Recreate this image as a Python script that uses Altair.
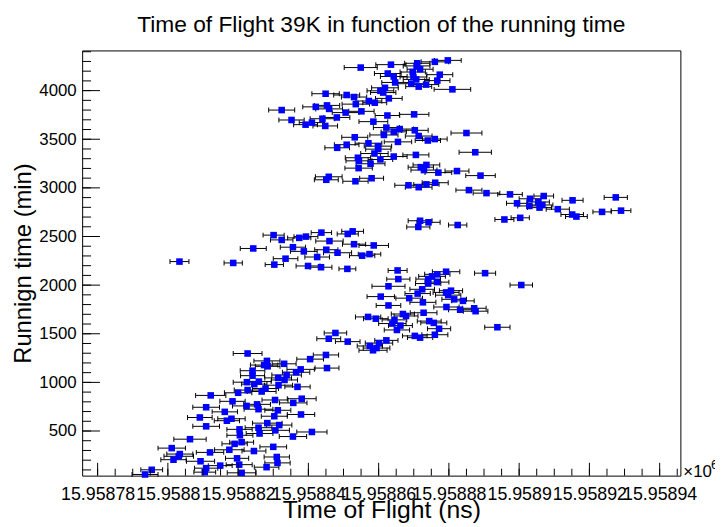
import altair as alt
import pandas as pd

# ---------------- data ----------------
# Time of flight is stored as an offset (ns) from TOF_REF_NS; running time in minutes;
# tof_err is the half-width of the horizontal error bar (ns).
TOF_REF_NS = 15958780.0

# lower diagonal cluster (0 - 1300 min)
bottom_tof = [42.7, 65.0, 60.5, 48.2, 53.1, 47.4, 48.4, 65.3, 57.8, 44.1,
              56.5, 44.1, 53.8, 51.4, 53.2, 42.5, 45.9, 44.6, 51.5, 56.9,
              47.8, 42.7, 46.7, 40.0, 32.2, 58.1, 50.5, 38.4, 55.7, 42.4,
              45.4, 30.9, 45.8, 51.3, 36.2, 57.9, 50.3, 29.1, 38.1, 36.8,
              48.3, 51.7, 30.9, 40.4, 45.8, 50.6, 61.0, 46.1, 40.5, 55.6,
              26.3, 41.0, 39.0, 50.0, 21.1, 37.5, 44.5, 32.0, 23.4, 23.1,
              51.0, 21.6, 39.7, 29.3, 51.2, 40.3, 34.9, 48.1, 30.9, 15.4,
              30.5, 41.0, 13.5]
bottom_min = [1297, 1282, 1239, 1221, 1191, 1178, 1165, 1147, 1134, 1120,
              1104, 1069, 1076, 1046, 1025, 1002, 1008, 982, 971, 954,
              937, 921, 906, 893, 866, 832, 819, 805, 789, 758,
              774, 744, 724, 713, 697, 670, 652, 639, 626, 606,
              581, 561, 548, 517, 534, 507, 490, 474, 456, 443,
              416, 385, 368, 337, 324, 307, 294, 280, 263, 240,
              233, 205, 219, 189, 172, 154, 144, 128, 118, 101,
              77, 70, 53]
bottom_err = [4.1, 3.6, 3.8, 3.7, 3.4, 3.9, 3.5, 3.4, 3.9, 3.5,
              3.9, 3.4, 4.2, 3.8, 3.7, 3.9, 3.5, 3.6, 4.0, 3.6,
              3.7, 3.8, 4.1, 3.9, 4.3, 4.1, 3.7, 3.6, 3.9, 4.0,
              3.8, 3.8, 4.1, 3.7, 3.6, 3.9, 3.7, 3.5, 3.9, 3.6,
              4.2, 3.6, 3.8, 3.6, 3.8, 4.0, 4.3, 3.8, 3.7, 3.9,
              4.6, 3.4, 3.6, 3.8, 3.9, 4.2, 3.4, 3.9, 3.7, 4.2,
              3.6, 3.6, 3.3, 4.0, 3.6, 3.7, 3.4, 3.5, 3.3, 3.1,
              3.1, 4.1, 3.7]

# middle cluster (1300 - 2200 min)
middle_tof = [65.8, 67.7, 71.2, 82.2, 80.1, 77.5, 79.4, 78.4, 90.3, 91.8,
              96.0, 97.2, 86.2, 85.2, 83.9, 84.5, 94.4, 95.7, 77.0, 79.2,
              86.9, 87.8, 92.8, 99.3, 103.2, 107.2, 107.6, 82.8, 80.6, 88.7,
              92.6, 101.5, 104.0, 82.8, 92.4, 91.1, 100.6, 99.2, 99.8, 85.4,
              85.6, 99.2, 96.7, 95.2, 94.1, 96.6, 94.1, 110.3, 120.6, 113.8]
middle_min = [1449, 1508, 1419, 1432, 1404, 1374, 1353, 1330, 1478, 1460,
              1490, 1552, 1584, 1539, 1605, 1643, 1630, 1612, 1673, 1655,
              1703, 1683, 1716, 1775, 1747, 1762, 1732, 1791, 1882, 1866,
              1823, 1854, 1838, 1988, 1957, 1913, 1943, 1925, 1897, 2151,
              2062, 2138, 2111, 2090, 2062, 2031, 2016, 2123, 2001, 1567]
middle_err = [3.4, 3.2, 3.5, 3.3, 3.9, 3.6, 3.8, 4.0, 3.5, 3.6,
              3.7, 3.3, 3.4, 3.6, 3.9, 3.5, 3.4, 3.7, 3.6, 3.5,
              3.3, 3.4, 3.8, 3.6, 3.3, 3.4, 3.5, 3.5, 3.9, 3.8,
              3.7, 3.5, 3.2, 4.7, 3.5, 3.6, 3.3, 3.7, 3.6, 2.7,
              3.3, 3.9, 3.6, 3.8, 3.5, 3.4, 3.6, 3.0, 3.2, 3.6]

# band around 2200 - 2700 min
band_tof = [23.3, 38.6, 50.3, 59.9, 63.6, 71.1, 44.3, 55.6, 58.7, 65.1,
            68.3, 62.5, 53.5, 75.3, 77.4, 78.6, 73.0, 66.0, 50.1, 52.4,
            57.4, 59.3, 63.7, 71.2, 72.6, 91.8, 94.2, 91.3, 102.5]
band_min = [2242, 2228, 2211, 2197, 2184, 2167, 2377, 2390, 2347, 2364,
            2333, 2289, 2272, 2303, 2319, 2408, 2421, 2453, 2514, 2465,
            2486, 2499, 2540, 2526, 2553, 2662, 2646, 2598, 2618]
band_err = [2.7, 2.6, 2.6, 3.4, 3.1, 2.4, 3.7, 3.6, 3.8, 3.3,
            4.0, 3.5, 3.5, 3.6, 3.2, 4.2, 3.3, 3.9, 3.0, 3.2,
            3.3, 3.4, 2.9, 3.0, 3.1, 3.4, 3.3, 3.3, 2.6]

# right-hand tail (2650 - 3000 min)
tail_tof = [105.7, 110.7, 117.4, 127.0, 123.1, 135.2, 147.5, 119.4, 125.4, 126.6,
            122.9, 125.8, 131.0, 135.1, 136.3, 143.6, 149.0, 115.8, 120.3]
tail_min = [2977, 2946, 2933, 2916, 2888, 2872, 2902, 2841, 2855, 2824,
            2814, 2797, 2781, 2726, 2705, 2753, 2766, 2675, 2692]
tail_err = [3.7, 3.8, 3.5, 2.8, 3.1, 3.0, 3.3, 3.0, 3.2, 3.0,
            3.3, 3.4, 3.3, 3.2, 3.1, 2.6, 2.8, 2.7, 2.6]

# upper cluster (3000 - 4320 min)
upper_tof = [88.5, 91.4, 96.1, 93.6, 65.8, 65.1, 73.4, 78.0, 109.0, 97.0,
             102.3, 92.9, 92.0, 93.6, 74.3, 77.7, 74.4, 80.5, 74.1, 84.3,
             90.6, 107.5, 78.8, 79.9, 79.8, 68.2, 70.9, 77.1, 85.5, 94.0,
             96.0, 73.2, 81.5, 91.4, 105.0, 84.3, 90.3, 86.0, 82.2, 64.8,
             59.2, 61.0, 78.5, 55.2, 64.0, 68.1, 82.5, 90.1, 70.6, 75.1,
             52.4, 65.9, 62.1, 65.3, 73.5, 78.9, 77.2, 82.9, 73.0, 70.9,
             64.9, 81.3, 80.5, 81.8, 101.0, 91.4, 93.5, 89.3, 84.7, 96.7,
             90.7, 89.9, 84.3, 97.4, 82.6, 89.7, 91.8, 74.9, 83.5, 90.8,
             91.0, 96.0, 99.7]
upper_min = [3027, 3007, 3053, 3036, 3114, 3083, 3068, 3099, 3126, 3157,
             3173, 3183, 3213, 3236, 3203, 3248, 3278, 3292, 3310, 3322,
             3339, 3366, 3353, 3398, 3429, 3412, 3444, 3459, 3473, 3487,
             3502, 3520, 3544, 3533, 3564, 3576, 3592, 3605, 3620, 3637,
             3650, 3671, 3681, 3698, 3711, 3724, 3744, 3756, 3774, 3787,
             3800, 3812, 3833, 3848, 3861, 3876, 3893, 3920, 3934, 3955,
             3968, 3980, 3998, 4029, 4013, 4041, 4062, 4071, 4084, 4103,
             4115, 4140, 4145, 4164, 4176, 4191, 4220, 4237, 4267, 4254,
             4281, 4296, 4311]
upper_err = [3.9, 3.8, 3.7, 3.6, 3.8, 3.4, 3.6, 3.4, 4.2, 3.8,
             3.4, 3.7, 3.6, 3.8, 3.9, 4.1, 3.7, 3.5, 3.6, 3.8,
             3.7, 4.6, 3.9, 3.6, 3.9, 3.5, 3.5, 3.8, 3.9, 3.6,
             3.5, 3.7, 4.0, 3.8, 4.4, 3.6, 3.8, 3.9, 3.7, 3.5,
             3.4, 3.6, 4.1, 3.6, 3.5, 3.7, 3.5, 4.2, 3.8, 3.6,
             3.7, 3.8, 3.7, 3.6, 3.9, 3.4, 3.7, 3.8, 3.6, 3.7,
             3.9, 3.6, 3.8, 3.8, 5.2, 3.7, 3.6, 3.9, 3.8, 3.6,
             3.7, 3.8, 3.8, 3.7, 3.8, 3.6, 3.7, 4.7, 4.3, 3.8,
             3.6, 3.9, 3.8]

# axis ticks / ranges / texts
X_DOMAIN = [15958775.6, 15958945.9]
Y_DOMAIN = [41, 4413]
x_major = [15958780, 15958800, 15958820, 15958840, 15958860,
           15958880, 15958900, 15958920, 15958940]
x_minor = [15958780 + 5 * k for k in range(34)]
y_major = [500, 1000, 1500, 2000, 2500, 3000, 3500, 4000]
y_minor = [100 * k for k in range(1, 45)]
TITLE = "Time of Flight 39K in function of the running time"
X_TITLE = "Time of Flight (ns)"
Y_TITLE = "Runnign time (min)"

# ---------------- build table ----------------
tof_offset = bottom_tof + middle_tof + band_tof + tail_tof + upper_tof
run_min = bottom_min + middle_min + band_min + tail_min + upper_min
tof_err = bottom_err + middle_err + band_err + tail_err + upper_err
n = min(len(tof_offset), len(run_min), len(tof_err))
df = pd.DataFrame({
    "tof": [TOF_REF_NS + v for v in tof_offset[:n]],
    "t": run_min[:n],
    "err": tof_err[:n],
})
df["lo"] = df["tof"] - df["err"]
df["hi"] = df["tof"] + df["err"]

W, H = 605, 430
FONT = "Liberation Sans"
xs = alt.Scale(domain=X_DOMAIN, nice=False, zero=False)
ys = alt.Scale(domain=Y_DOMAIN, nice=False, zero=False)

x_axis = alt.Axis(
    values=x_major, labelExpr="format(datum.value / 1000000, '.7~g')",
    ticks=False, tickSize=0, domain=False, grid=False,
    labelOverlap=False, labelFlush=False, labelFontSize=18, labelPadding=10,
    labelFont=FONT, labelColor="black",
    title=X_TITLE, titleFontSize=25, titleFont=FONT,
    titleFontWeight="normal", titleColor="black", titleBaseline="alphabetic",
    titleX=W / 2, titleY=42,
)
y_axis = alt.Axis(
    values=y_major, format="d",
    ticks=False, tickSize=0, domain=False, grid=False,
    labelOverlap=False, labelFontSize=17, labelPadding=6,
    labelFont=FONT, labelColor="black",
    title=Y_TITLE, titleFontSize=24, titleFont=FONT,
    titleFontWeight="normal", titleColor="black", titleBaseline="alphabetic",
    titleX=-52, titleY=H / 2, titleAngle=-90,
)

base = alt.Chart(df)
bars = base.mark_rule(color="black", strokeWidth=1).encode(
    x=alt.X("lo:Q", scale=xs, axis=x_axis),
    x2="hi:Q",
    y=alt.Y("t:Q", scale=ys, axis=y_axis),
)
cap_lo = base.mark_tick(orient="vertical", size=5, thickness=1, color="black", opacity=1).encode(
    x=alt.X("lo:Q", scale=xs, axis=x_axis), y=alt.Y("t:Q", scale=ys, axis=y_axis))
cap_hi = base.mark_tick(orient="vertical", size=5, thickness=1, color="black", opacity=1).encode(
    x=alt.X("hi:Q", scale=xs, axis=x_axis), y=alt.Y("t:Q", scale=ys, axis=y_axis))
points = base.mark_square(size=44, color="#0000ff", opacity=1, filled=True).encode(
    x=alt.X("tof:Q", scale=xs, axis=x_axis), y=alt.Y("t:Q", scale=ys, axis=y_axis))

xmin_t = alt.Chart(pd.DataFrame({"v": x_minor})).mark_rule(color="black", strokeWidth=1).encode(
    x=alt.X("v:Q", scale=xs, axis=x_axis), y=alt.value(H), y2=alt.value(H - 7))
xmaj_t = alt.Chart(pd.DataFrame({"v": x_major})).mark_rule(color="black", strokeWidth=1).encode(
    x=alt.X("v:Q", scale=xs, axis=x_axis), y=alt.value(H), y2=alt.value(H - 13))
ymin_t = alt.Chart(pd.DataFrame({"v": y_minor})).mark_rule(color="black", strokeWidth=1).encode(
    y=alt.Y("v:Q", scale=ys, axis=y_axis), x=alt.value(0), x2=alt.value(9))
ymaj_t = alt.Chart(pd.DataFrame({"v": y_major})).mark_rule(color="black", strokeWidth=1).encode(
    y=alt.Y("v:Q", scale=ys, axis=y_axis), x=alt.value(0), x2=alt.value(18))

title_txt = alt.Chart(pd.DataFrame({"s": [TITLE]})).mark_text(
    font=FONT, fontSize=23, align="center", baseline="alphabetic", color="black").encode(
    text="s:N", x=alt.value(W / 2), y=alt.value(-19))
exp_lbl = alt.Chart(pd.DataFrame({"s": ["\u00d710"]})).mark_text(
    font=FONT, fontSize=17, align="left", baseline="alphabetic", color="black").encode(
    text="s:N", x=alt.value(W + 3), y=alt.value(H + 1))
exp_pow = alt.Chart(pd.DataFrame({"s": ["6"]})).mark_text(
    font=FONT, fontSize=13, align="left", baseline="alphabetic", color="black").encode(
    text="s:N", x=alt.value(W + 31), y=alt.value(H - 7))

chart = alt.layer(
    bars, cap_lo, cap_hi, points, xmin_t, xmaj_t, ymin_t, ymaj_t,
    title_txt, exp_lbl, exp_pow
).properties(
    width=W, height=H,
    autosize=alt.AutoSizeParams(type="none"),
    padding={"left": 75, "top": 40, "right": 35, "bottom": 49},
).configure(font=FONT, background="white").configure_view(
    stroke="black", strokeWidth=1
)

chart.save("out.html", embed_options={"renderer": "svg", "actions": False})
